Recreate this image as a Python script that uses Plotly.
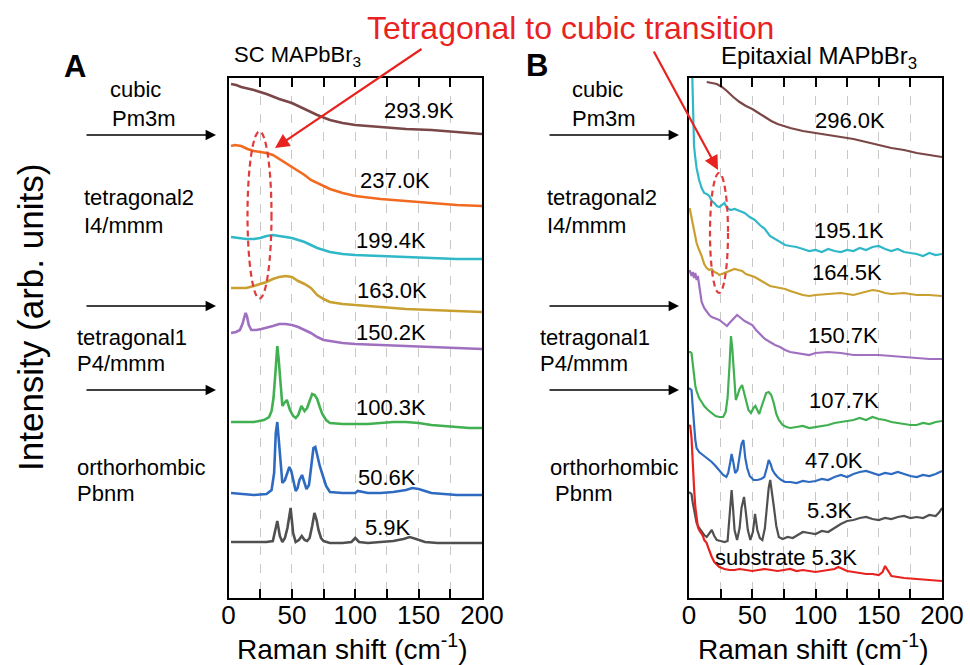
import plotly.graph_objects as go

W, H = 970, 665

# ---------------- Panel A : SC MAPbBr3 ----------------
A_LABELS = ["293.9K", "237.0K", "199.4K", "163.0K", "150.2K", "100.3K", "50.6K", "5.9K"]
A_COLORS = ["#7a4646", "#f26a1f", "#2fb8c8", "#c9a030", "#a070c0", "#40b050", "#2e6bc0", "#505050"]

a_x_2939 = [2, 6, 10, 20, 30, 40, 50, 60, 70, 80, 90, 100, 120, 140, 160, 180, 200]
a_y_2939 = [514, 513, 511, 508, 504, 499, 495, 489, 483, 478, 475, 473, 471, 469, 468, 466, 464]

a_x_2370 = [2, 5, 10, 15, 20, 25, 30, 35, 40, 45, 50, 55, 60, 65, 70, 80, 90, 100, 120, 140, 160, 180, 200]
a_y_2370 = [452, 453, 452, 449, 447, 446, 445, 443, 439, 435, 431, 427, 423, 418, 415, 409, 405, 402, 399, 397, 395, 393, 392]

a_x_1994 = [2, 8, 14, 20, 25, 30, 35, 40, 45, 50, 55, 60, 65, 70, 75, 80, 90, 100, 120, 140, 160, 180, 200]
a_y_1994 = [361, 360, 359, 359, 360, 362, 363, 362, 361, 360, 358, 356, 353, 350, 348, 346, 344, 343, 342, 341, 340, 339, 339]

a_x_1630 = [2, 8, 14, 20, 25, 30, 35, 40, 45, 50, 55, 60, 65, 70, 75, 80, 90, 100, 120, 140, 160, 180, 200]
a_y_1630 = [310, 310, 310, 312, 314, 316, 319, 321, 322, 321, 317, 314, 310, 303, 299, 296, 294, 293, 291, 289, 288, 287, 286]

a_x_1502 = [2, 6, 9, 11, 12.5, 13.5, 14.5, 16, 18, 22, 26, 30, 35, 40, 45, 50, 55, 60, 65, 70, 75, 80, 90, 100, 120, 140, 160, 180, 200]
a_y_1502 = [265, 266, 268, 274, 281, 285, 282, 273, 268, 268, 269, 270, 272, 274, 274, 273, 271, 268, 265, 261, 258, 257, 255, 254, 253, 252, 251, 250, 249]

a_x_1003 = [2, 10, 20, 28, 32, 34, 35.5, 37, 38.5, 39.5, 41, 42.5, 44, 46, 48.5, 51, 53, 55, 57.5, 60, 62, 64, 66, 68, 70, 72, 74, 77, 80, 90, 100, 110, 120, 130, 140, 150, 160, 170, 180, 190, 200]
a_y_1003 = [176, 176, 176, 178, 181, 187, 200, 225, 252, 240, 214, 192, 195, 198, 188, 182, 180, 183, 192, 187, 190, 198, 204, 203, 199, 191, 184, 178, 175, 174, 174, 174, 175, 176, 176, 175, 173, 172, 171, 170, 170]

a_x_506 = [2, 10, 20, 30, 34, 36, 37.3, 38.5, 39.5, 41, 42.5, 44.5, 46.5, 48, 49.5, 51, 53, 54.5, 56, 58, 60, 61.5, 63.5, 65.5, 67, 68.5, 70, 72, 74, 77, 80, 90, 100, 102, 110, 120, 130, 140, 145, 150, 155, 160, 170, 180, 190, 200]
a_y_506 = [105, 104, 103, 104, 108, 125, 165, 176, 160, 130, 115, 118, 126, 131, 127, 118, 107, 110, 118, 123, 114, 109, 113, 135, 150, 151, 142, 132, 124, 112, 106, 105, 105, 107, 105, 105, 106, 108, 110, 109, 107, 105, 104, 103, 103, 103]

a_x_59 = [2, 10, 20, 30, 35, 36.5, 38.5, 40.5, 42.5, 44.5, 46.5, 49, 51, 53, 55.5, 57.8, 60, 62, 64, 66, 67.8, 69.5, 71, 73, 75, 80, 90, 97, 100, 103, 110, 120, 130, 138, 143, 148, 155, 165, 180, 200]
a_y_59 = [56, 56, 56, 56, 57, 65, 77, 62, 56, 60, 70, 90, 65, 56, 58, 62, 58, 57, 60, 72, 85, 78, 68, 60, 57, 55, 55, 56, 60, 56, 55, 56, 57, 59, 61, 59, 56, 55, 55, 55]

A_X = [a_x_2939, a_x_2370, a_x_1994, a_x_1630, a_x_1502, a_x_1003, a_x_506, a_x_59]
A_Y = [a_y_2939, a_y_2370, a_y_1994, a_y_1630, a_y_1502, a_y_1003, a_y_506, a_y_59]

# ---------------- Panel B : Epitaxial MAPbBr3 ----------------
B_LABELS = ["296.0K", "195.1K", "164.5K", "150.7K", "107.7K", "47.0K", "5.3K", "substrate 5.3K"]
B_COLORS = ["#7a4646", "#2fb8c8", "#c9a030", "#a070c0", "#40b050", "#2e6bc0", "#505050", "#e8231f"]

b_x_2960 = [14, 18, 22, 26, 30, 35, 40, 45, 50, 55, 60, 65, 70, 75, 80, 90, 100, 110, 120, 130, 140, 150, 160, 170, 180, 190, 200]
b_y_2960 = [516, 515, 514, 511, 507, 501, 496, 492, 489, 485, 481, 477, 474, 472, 470, 467, 465, 463, 461, 459, 456, 453, 450, 448, 445, 443, 441]

b_x_1951 = [1, 2, 3, 4, 5, 6, 8, 10, 12, 14, 16, 18, 20, 22, 24, 26, 28, 30, 33, 36, 40, 44, 48, 52, 56, 60, 64, 68, 72, 76, 80, 85, 90, 95, 100, 105, 110, 115, 120, 125, 130, 135, 140, 145, 150, 155, 160, 165, 170, 175, 180, 185, 190, 195, 200]
b_y_1951 = [600, 540, 480, 452, 440, 430, 418, 410, 405, 404, 402, 397, 395, 392, 391, 393, 395, 390, 388, 389, 387, 385, 381, 378, 373, 369, 362, 359, 356, 353, 352, 351, 349, 347, 348, 346, 349, 347, 346, 348, 347, 350, 348, 351, 352, 349, 347, 349, 346, 345, 344, 342, 345, 343, 344]

b_x_1645 = [0.5, 2, 4, 6, 8, 10, 12, 14, 16, 18, 20, 22, 24, 26, 28, 30, 33, 36, 39, 42, 45, 48, 52, 56, 60, 64, 68, 72, 76, 80, 85, 90, 95, 100, 110, 120, 130, 140, 145, 150, 155, 160, 170, 180, 190, 200]
b_y_1645 = [390, 380, 365, 355, 348, 342, 334, 330, 328, 329, 326, 325, 323, 324, 325, 326, 327, 329, 328, 327, 324, 323, 321, 318, 315, 312, 311, 310, 309, 307, 305, 303, 302, 303, 304, 305, 303, 306, 308, 307, 305, 304, 305, 303, 303, 302]

b_x_1507 = [0.5, 2, 3, 4, 5, 6, 7, 8, 9, 10, 12, 14, 16, 18, 20, 22, 24, 26, 28, 30, 32, 34, 36, 38, 40, 42, 44, 47, 50, 53, 56, 60, 64, 68, 72, 76, 80, 85, 90, 95, 100, 110, 120, 130, 140, 150, 160, 170, 180, 190, 200]
b_y_1507 = [328, 322, 326, 320, 325, 318, 322, 312, 302, 296, 290, 286, 283, 281, 280, 279, 278, 276, 274, 272, 275, 278, 281, 283, 281, 279, 277, 275, 273, 268, 264, 259, 256, 253, 251, 248, 246, 245, 244, 243, 245, 246, 245, 243, 243, 243, 242, 241, 240, 239, 239]

b_x_1077 = [0, 1, 2, 3, 4, 5, 6, 8, 10, 12, 15, 18, 21, 24, 27, 29, 30.5, 32, 33.2, 34.2, 35.5, 37, 38.5, 40, 42, 43.5, 45, 47, 49, 51, 52.5, 54, 55.5, 57, 59, 61, 63, 65, 67, 69, 71, 74, 77, 80, 85, 90, 95, 100, 105, 110, 115, 120, 125, 130, 135, 140, 145, 150, 155, 160, 165, 170, 175, 180, 185, 190, 195, 200]
b_y_1077 = [246, 246, 245, 232, 221, 212, 207, 200, 196, 192, 188, 185, 182, 181, 181, 186, 200, 232, 262, 250, 228, 198, 203, 209, 213, 205, 198, 188, 185, 190, 192, 187, 184, 190, 198, 205, 206, 203, 195, 184, 178, 173, 171, 170, 171, 172, 170, 171, 172, 173, 175, 176, 177, 178, 180, 178, 181, 179, 178, 176, 175, 174, 173, 173, 175, 174, 176, 177]

b_x_470 = [0, 1, 2, 3, 4, 5, 6, 8, 10, 12, 15, 18, 21, 24, 27, 29.5, 31, 32.5, 33.7, 35, 36.5, 38.3, 40, 41.5, 43, 44.5, 46, 48, 51, 54, 57, 59.5, 61.5, 63, 64.5, 66, 68, 70, 73, 76, 80, 85, 90, 95, 100, 105, 110, 115, 120, 125, 130, 135, 140, 145, 150, 155, 160, 165, 170, 175, 180, 185, 190, 195, 200]
b_y_470 = [210, 209, 208, 190, 168, 158, 150, 146, 144, 142, 139, 136, 132, 127, 123, 121, 125, 135, 144, 136, 125, 128, 140, 154, 158, 140, 130, 122, 118, 118, 119, 121, 130, 138, 134, 128, 124, 121, 118, 116, 116, 115, 117, 116, 117, 119, 118, 121, 123, 121, 124, 126, 127, 125, 123, 125, 124, 126, 124, 122, 121, 123, 122, 124, 127]

b_x_53 = [0, 1, 2, 3, 4, 5, 6, 8, 10, 12, 14, 16, 18, 20, 22, 25, 28, 30.5, 31.5, 32.5, 33.7, 34.8, 36, 38, 40, 41.5, 43.5, 45, 46.5, 48.5, 50.5, 52.2, 54, 56, 58, 60, 61.5, 63, 64.2, 65.5, 67, 69, 71, 74, 78, 82, 86, 90, 95, 100, 105, 110, 115, 120, 125, 130, 135, 140, 145, 150, 155, 160, 165, 170, 175, 180, 185, 190, 195, 198, 200]
b_y_53 = [106, 105, 104, 95, 88, 80, 75, 70, 66, 63, 61, 65, 68, 62, 58, 57, 56, 57, 75, 95, 108, 90, 68, 58, 70, 90, 101, 85, 68, 58, 66, 84, 68, 60, 58, 70, 91, 110, 118, 108, 92, 72, 61, 59, 61, 60, 63, 66, 65, 64, 67, 66, 70, 74, 77, 78, 80, 81, 79, 78, 80, 79, 81, 82, 80, 81, 80, 83, 82, 86, 90]

b_x_sub = [0, 1, 2, 3, 4, 5, 6, 7, 8, 9, 10, 11, 12, 13, 14, 15, 16, 17, 18, 20, 22, 24, 26, 28, 32, 36, 40, 45, 50, 55, 60, 65, 70, 75, 80, 85, 90, 95, 100, 105, 110, 115, 118, 121, 125, 130, 135, 140, 145, 150, 153, 155, 157, 160, 165, 170, 180, 190, 200]
b_y_sub = [173, 172, 160, 131, 110, 91, 80, 71, 68, 66, 64, 62, 58, 56, 55, 51, 47, 44, 41, 36, 33, 31, 30, 29, 28, 28, 29, 28, 27, 28, 29, 28, 27, 28, 29, 27, 28, 27, 26, 27, 28, 29, 31, 29, 27, 26, 25, 24, 24, 23, 26, 32, 28, 22, 21, 20, 19, 18, 17]

B_X = [b_x_2960, b_x_1951, b_x_1645, b_x_1507, b_x_1077, b_x_470, b_x_53, b_x_sub]
B_Y = [b_y_2960, b_y_1951, b_y_1645, b_y_1507, b_y_1077, b_y_470, b_y_53, b_y_sub]

X_TICKS = [0, 25, 50, 75, 100, 125, 150, 175, 200]
X_TICKTEXT = ["0", "", "50", "", "100", "", "150", "", "200"]

PHASES = [("cubic", "Pm3m"), ("tetragonal2", "I4/mmm"), ("tetragonal1", "P4/mmm"), ("orthorhombic", "Pbnm")]

FONT = "Liberation Sans, Arial, Helvetica, sans-serif"


def P(px, py):
    """pixel position -> paper coordinates"""
    return px / W, 1 - py / H


fig = go.Figure()
for xs, ys, c in zip(A_X, A_Y, A_COLORS):
    fig.add_trace(go.Scatter(x=xs, y=ys, mode="lines", line=dict(color=c, width=2.6),
                             xaxis="x", yaxis="y", showlegend=False, hoverinfo="skip"))
for xs, ys, c in zip(B_X, B_Y, B_COLORS):
    fig.add_trace(go.Scatter(x=xs, y=ys, mode="lines", line=dict(color=c, width=2.2),
                             xaxis="x2", yaxis="y2", showlegend=False, hoverinfo="skip"))

xdomA = [228.5 / W, 482 / W]
xdomB = [689 / W, 942 / W]
ydom = [1 - 598 / H, 1 - 78 / H]

xcommon = dict(range=[0, 200], tickmode="array", tickvals=X_TICKS, ticktext=X_TICKTEXT,
               ticks="inside", ticklen=9, tickwidth=2, tickcolor="black", ticklabelstandoff=-7,
               showline=True, linecolor="black", linewidth=2, mirror="ticks",
               showgrid=True, gridcolor="#c8c8c8", griddash="dash", gridwidth=1,
               zeroline=False, automargin=False,
               tickfont=dict(family=FONT, size=26, color="black"))
ycommon = dict(range=[0, 520], showticklabels=False, ticks="", showgrid=False, zeroline=False,
               showline=True, linecolor="black", linewidth=2, mirror=True, domain=ydom,
               automargin=False)

fig.update_layout(
    width=W, height=H, autosize=False,
    margin=dict(l=0, r=0, t=0, b=0, pad=0, autoexpand=False),
    paper_bgcolor="white", plot_bgcolor="white",
    xaxis=dict(domain=xdomA, anchor="y", **xcommon),
    yaxis=dict(anchor="x", **ycommon),
    xaxis2=dict(domain=xdomB, anchor="y2", **xcommon),
    yaxis2=dict(anchor="x2", **ycommon),
    font=dict(family=FONT, color="black"),
)

ann = []


def text(px, py, s, size, color="black", xanchor="center", bold=False, angle=0):
    x, y = P(px, py)
    ann.append(dict(x=x, y=y, xref="paper", yref="paper", text=("<b>%s</b>" % s) if bold else s,
                    showarrow=False, xanchor=xanchor, yanchor="middle", textangle=angle,
                    font=dict(family=FONT, size=size, color=color)))


def arrow(hx, hy, tx, ty, color, width, head, size):
    x, y = P(hx, hy)
    ann.append(dict(x=x, y=y, xref="paper", yref="paper", text="", showarrow=True,
                    ax=tx - hx, ay=ty - hy, axref="pixel", ayref="pixel",
                    arrowcolor=color, arrowwidth=width, arrowhead=head, arrowsize=size,
                    standoff=0, startstandoff=0))


# spectrum labels
A_LABEL_POS = [(419, 110), (395, 180), (391, 240), (392, 290), (391, 332), (391, 407), (387, 477), (388, 527)]
B_LABEL_POS = [(850, 120), (849, 230), (847, 273), (843, 335), (844, 400), (834, 460), (830, 510), (786, 557)]
for s, (px, py) in zip(A_LABELS, A_LABEL_POS):
    text(px, py, s, 22)
for s, (px, py) in zip(B_LABELS, B_LABEL_POS):
    text(px, py, s, 22)

# phase labels and black arrows
PHASE_Y = [(89, 118), (197, 225), (337, 363), (467, 493)]
A_PHASE_X = [(108, 110), (82, 82), (75, 75), (75, 75)]
B_PHASE_X = [(570, 570), (545, 545), (538, 538), (548, 553)]
for (l1, l2), (y1, y2), (ax1, ax2), (bx1, bx2) in zip(PHASES, PHASE_Y, A_PHASE_X, B_PHASE_X):
    text(ax1, y1, l1, 22, xanchor="left")
    text(ax2, y2, l2, 22, xanchor="left")
    text(bx1, y1, l1, 22, xanchor="left")
    text(bx2, y2, l2, 22, xanchor="left")

for ay in [135, 306, 390]:
    arrow(216, ay, 85, ay, "black", 1.3, 2, 1.6)
    arrow(679, ay, 548, ay, "black", 1.3, 2, 1.6)

# titles
text(75, 66, "A", 31, bold=True)
text(537, 65, "B", 31, bold=True)
text(297, 56, "SC MAPbBr<sub>3</sub>", 22)
text(819, 57, "Epitaxial MAPbBr<sub>3</sub>", 24)
text(570, 28, "Tetragonal to cubic transition", 32, color="#e8231f")
text(30, 318, "Intensity (arb. units)", 35, angle=-90)
text(352, 647, "Raman shift (cm<sup>-1</sup>)", 28)
text(813, 647, "Raman shift (cm<sup>-1</sup>)", 28)

# red transition arrows
arrow(275, 148, 423, 48, "#e8231f", 2.2, 2, 1.3)
arrow(718, 170, 653, 50, "#e8231f", 2.2, 2, 1.3)

fig.update_layout(annotations=ann)

# dashed ellipses
shapes = []
for (x0, y0, x1, y1) in [(247.5, 131.5, 271.5, 298.5), (710, 173, 728, 293)]:
    a, b = P(x0, y1)
    c, d = P(x1, y0)
    shapes.append(dict(type="circle", xref="paper", yref="paper", x0=a, y0=b, x1=c, y1=d,
                       line=dict(color="#e03a3a", width=2.2, dash="6px,4px")))
fig.update_layout(shapes=shapes)

# keep the page exactly the figure's size (no body margin, no scrollbars)
POST = ("document.documentElement.style.margin='0';document.documentElement.style.overflow='hidden';"
        "document.body.style.margin='0';document.body.style.overflow='hidden';"
        "var gd=document.getElementById('{plot_id}');Plotly.relayout(gd,{width:%d,height:%d});" % (W, H))

fig.write_html("out.html", config={"responsive": False, "displayModeBar": False}, post_script=POST)
